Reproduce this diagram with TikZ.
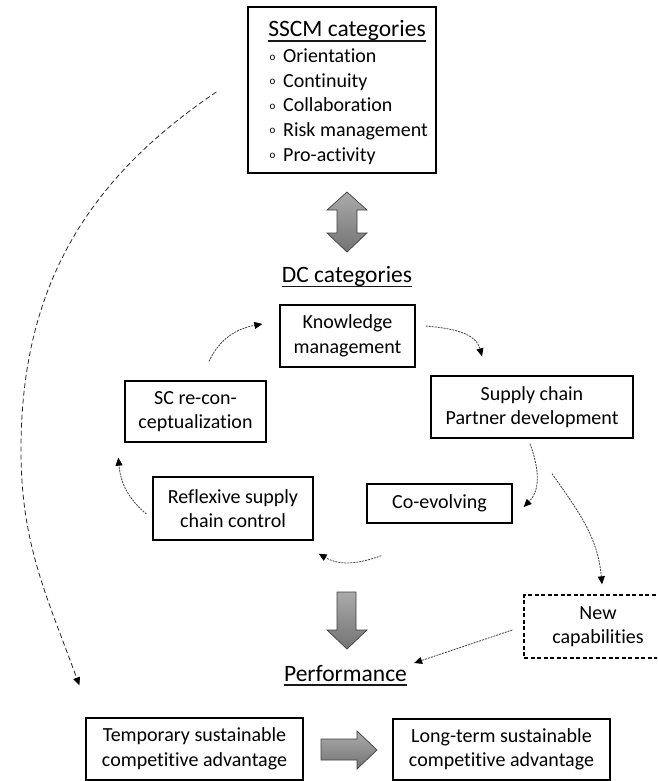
\documentclass[tikz,border=0pt]{standalone}
\usepackage{fontspec}
\setmainfont{Carlito}[Ligatures=NoCommon]
\usetikzlibrary{arrows.meta}

\newcommand\bodyfont{\fontsize{20}{24.5}\selectfont}
\newcommand\headfont{\fontsize{23.5}{28}\selectfont}
\newcommand\itemmark{\makebox[13.5pt][l]{\raisebox{2.5pt}{\fontsize{11}{11}\selectfont o}}}

\tikzset{
  x=1pt, y=1pt,
  box/.style={draw=black, line width=1.3pt, align=center, font=\bodyfont,
    text=black, inner sep=0pt},
  dashbox/.style={box, dash pattern=on 4pt off 2.5pt},
  head/.style={font=\headfont, text=black, inner sep=0pt},
  itemtext/.style={font=\bodyfont, text=black, inner sep=0pt, anchor=base west},
  uline/.style={line width=1.3pt, black!90},
  conn/.style={draw=black!75, line width=0.8pt, dash pattern=on 2pt off 1pt,
    -{Triangle[length=8pt,width=7pt,color=black]}},
  longconn/.style={draw=black!85, line width=0.8pt, dash pattern=on 5pt off 3pt,
    -{Triangle[length=8pt,width=7pt,color=black]}},
  blockarrow/.style={draw=black!75, line width=0.7pt, top color=black!33,
    bottom color=black!55, shading angle=0},
}

\begin{document}
\begin{tikzpicture}
\useasboundingbox (0,0) rectangle (657,-781);
\fill[white] (0,0) rectangle (657,-781);
\clip (0,0) rectangle (657,-781);

% SSCM categories
\node[box, minimum width=188pt, minimum height=166pt] (sscm) at (342,-90) {};
\node[head, anchor=base] (sscmtitle) at (347,-36.5) {SSCM categories};
\draw[uline] ([yshift=-4.5pt]sscmtitle.base west) -- ([yshift=-4.5pt]sscmtitle.base east);
\foreach \t [count=\i] in {Orientation, Continuity, Collaboration, Risk management, Pro-activity}
  \node[itemtext] (item\i) at (269.5, {-63-24.5*(\i-1)}) {\itemmark\t};

% double block arrow between SSCM and DC
\draw[blockarrow] (347,-192) -- (367,-210) -- (357,-210) -- (357,-233) -- (367,-233)
  -- (347,-252) -- (327,-233) -- (337,-233) -- (337,-210) -- (327,-210) -- cycle;

% DC categories
\node[head, anchor=base] (dc) at (347,-282) {DC categories};
\draw[uline] ([yshift=-4.5pt]dc.base west) -- ([yshift=-4.5pt]dc.base east);

\node[box, minimum width=135pt, minimum height=62pt] (km) at (347.5,-336) {Knowledge\\management};
\node[box, minimum width=141pt, minimum height=61pt] (sc) at (195.5,-411.5) {SC re-con-\\ceptualization};
\node[box, minimum width=202pt, minimum height=62pt] (scp) at (532,-407) {Supply chain\\Partner development};
\node[box, minimum width=160pt, minimum height=63pt] (refl) at (233,-508.5) {Reflexive supply\\chain control};
\node[box, minimum width=145pt, minimum height=39pt] (coev) at (439.5,-503.5) {Co-evolving};
\node[dashbox, minimum width=148pt, minimum height=63pt] (newcap) at (598,-626.5) {New\\capabilities};

% DC cycle
\draw[conn] ([shift={(13.5,19)}]sc.north) to[out=65,in=190] ([shift={(-17,12)}]km.west);
\draw[conn] ([shift={(10,10)}]km.east) to[out=-5,in=105] ([shift={(-50,19)}]scp.north);
\draw[conn] ([shift={(-2,-5)}]scp.south) to[out=-70,in=45] ([shift={(11,-3.5)}]coev.east);
\draw[conn] ([shift={(15,-32)}]coev.south west) to[out=-160,in=-30] ([shift={(5,-13)}]refl.south east);
\draw[conn] ([shift={(-6,-5.5)}]refl.west) to[out=140,in=-85] ([shift={(-6,-15)}]sc.south west);
\draw[conn] ([shift={(20,-35)}]scp.south) to[out=-55,in=95] ([shift={(4,10)}]newcap.north);

% block arrow down to performance
\draw[blockarrow] (337,-592) -- (356,-592) -- (356,-630) -- (367,-630) -- (347,-649)
  -- (327,-630) -- (337,-630) -- cycle;

% Performance
\node[head, anchor=base] (perf) at (345.5,-681) {Performance};
\draw[uline] ([yshift=-4pt]perf.base west) -- ([yshift=-4pt]perf.base east);
\draw[conn] ([shift={(-11,-3.5)}]newcap.west) -- ([shift={(7,18)}]perf.base east);

\node[box, minimum width=217pt, minimum height=62pt] (temp) at (194.5,-749) {Temporary sustainable\\competitive advantage};
\node[box, minimum width=217pt, minimum height=61pt] (long) at (501.5,-749.5) {Long-term sustainable\\competitive advantage};

\draw[blockarrow] (321,-739) -- (357,-739) -- (357,-731) -- (377,-750) -- (357,-769)
  -- (357,-760) -- (321,-760) -- cycle;

% direct SSCM effect on performance
\coordinate (bend) at (21,-450);
\draw[longconn] ([shift={(-31,-2)}]sscm.west) to[out=214,in=90] (bend)
  to[out=-90,in=110] ([shift={(-6,32)}]temp.north west);
\end{tikzpicture}
\end{document}
